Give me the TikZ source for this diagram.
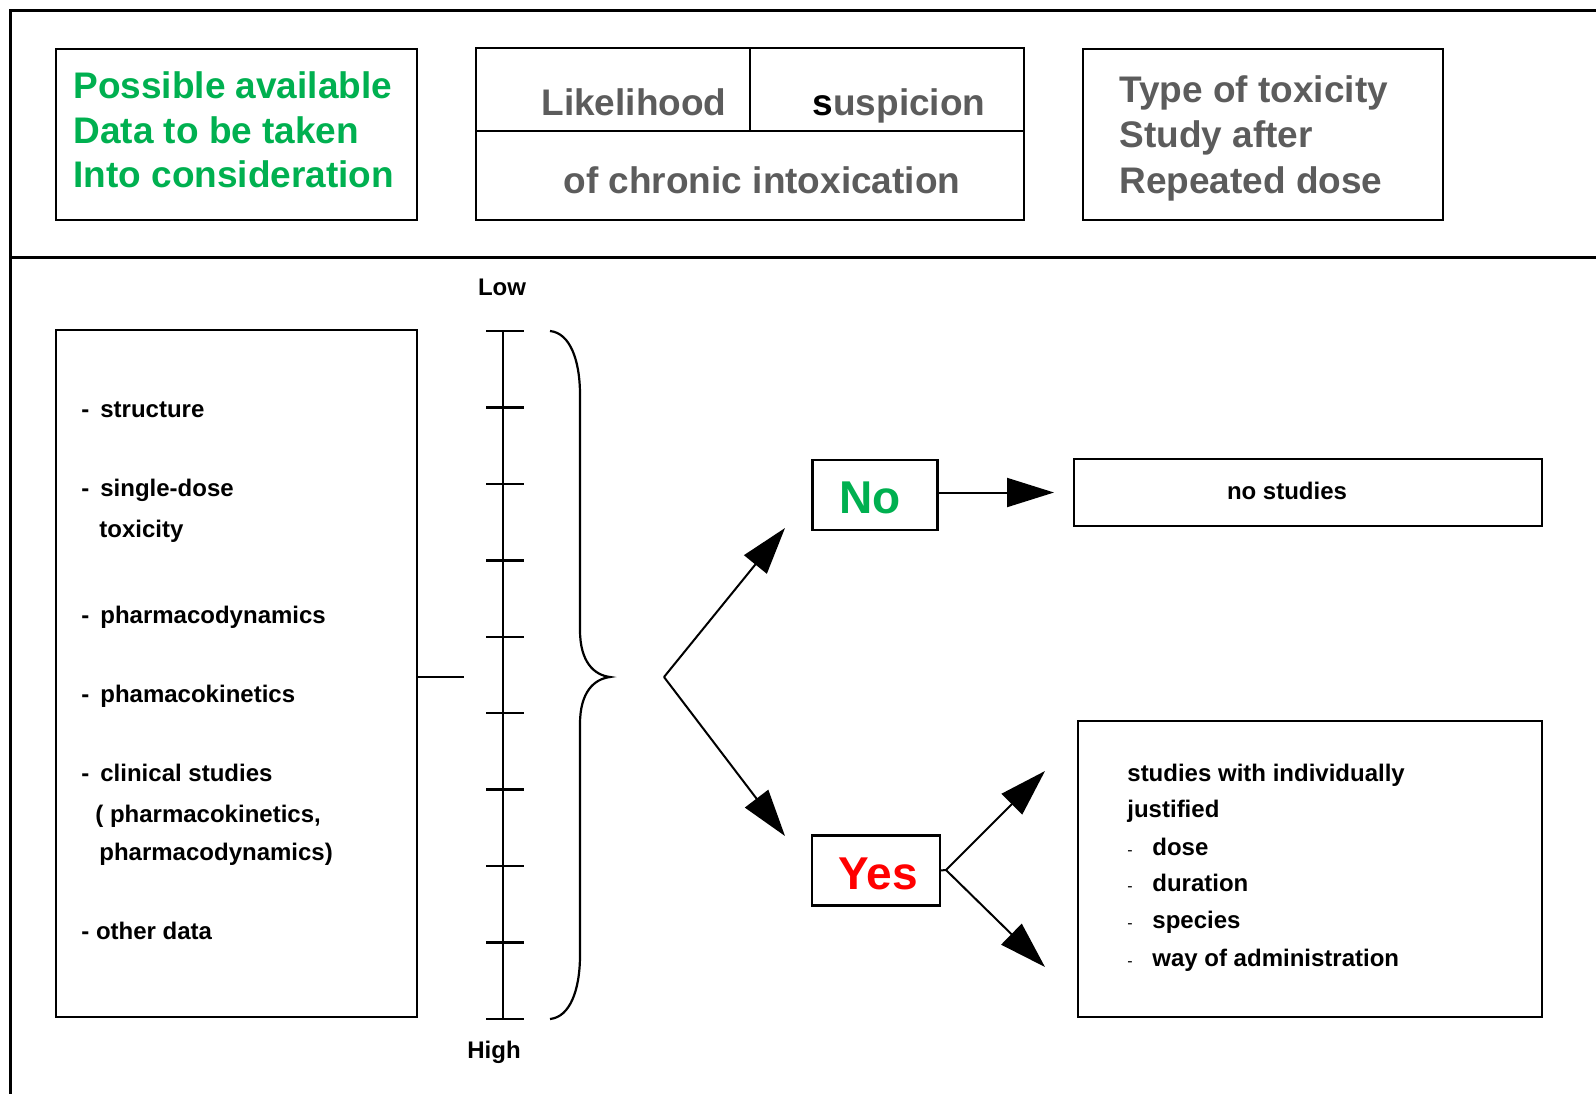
\documentclass[tikz,border=0pt]{standalone}
\usepackage{fontspec}
\setmainfont{Liberation Sans}
\usetikzlibrary{arrows.meta}
\definecolor{hgreen}{RGB}{0,176,80}
\definecolor{hgray}{RGB}{92,92,92}
\definecolor{hred}{RGB}{255,0,0}
\begin{document}
\begin{tikzpicture}[x=0.5pt,y=-0.5pt,
  box/.style={draw, line width=1.3pt, inner sep=0pt, outer sep=0pt},
  frame/.style={line width=1.5pt},
  bigl/.style={font=\fontsize{18.5}{22}\selectfont\bfseries, inner sep=0pt, anchor=base west},
  bigc/.style={font=\fontsize{18.5}{22}\selectfont\bfseries, inner sep=0pt, anchor=base},
  smalll/.style={font=\fontsize{12}{14}\selectfont\bfseries, inner sep=0pt, anchor=base west},
  smallc/.style={font=\fontsize{12}{14}\selectfont\bfseries, inner sep=0pt, anchor=base},
  answer/.style={font=\fontsize{23}{26}\selectfont\bfseries, inner sep=0pt, anchor=base},
  conn/.style={line width=1pt},
  arr/.style={line width=1pt, -{Triangle[length=23.5pt,width=14.5pt]}},
]
\useasboundingbox (0,0) rectangle (1596,1094);
% frame
\coordinate (fTR) at (1596,10.5);
\coordinate (fTL) at (10,10.5);
\coordinate (fBL) at (10,1094);
\coordinate (dL) at (10,257);
\coordinate (dR) at (1596,257);
\draw[frame] (fTR) -- (fTL) -- (fBL);
\draw[frame] (dL) -- (dR);

% header boxes
\node[box, minimum width=180.5pt, minimum height=85.5pt] (data) at (236.5,134.5) {};
\node[bigl, text=hgreen] (d1) at (73,98) {Possible available};
\node[bigl, text=hgreen] (d2) at (73,143) {Data to be taken};
\node[bigl, text=hgreen] (d3) at (73,187) {Into consideration};

\node[box, minimum width=274pt, minimum height=86pt] (lik) at (750,134) {};
\coordinate (likmid) at (750,131);
\draw[line width=1.3pt] (lik.west |- likmid) -- (lik.east |- likmid);
\draw[line width=1.3pt] (lik.north) -- (likmid);
\node[bigc, text=hgray] (t1) at (634,115) {Likelihood};
\node[bigc, text=hgray] (t2) at (899,115) {\textcolor{black}{s}uspicion};
\node[bigc, text=hgray] (t3) at (762,193) {of chronic intoxication};

\node[box, minimum width=180pt, minimum height=85.5pt] (type) at (1263,134.5) {};
\node[bigl, text=hgray] (y1) at (1119,102) {Type of toxicity};
\node[bigl, text=hgray] (y2) at (1119,147) {Study after};
\node[bigl, text=hgray] (y3) at (1119,193) {Repeated dose};

% list box
\node[box, minimum width=180.5pt, minimum height=343.5pt] (list) at (236.5,673.5) {};
\node[smalll] (l1) at (81,417) {\makebox[9.5pt][l]{-}structure};
\node[smalll] (l2) at (81,496) {\makebox[9.5pt][l]{-}single-dose};
\node[smalll] (l3) at (99,537) {toxicity};
\node[smalll] (l4) at (81,623) {\makebox[9.5pt][l]{-}pharmacodynamics};
\node[smalll] (l5) at (81,702) {\makebox[9.5pt][l]{-}phamacokinetics};
\node[smalll] (l6) at (81,781) {\makebox[9.5pt][l]{-}clinical studies};
\node[smalll] (l7) at (95,822) {( pharmacokinetics,};
\node[smalll] (l8) at (99,860) {pharmacodynamics)};
\node[smalll] (l9) at (81,939) {- other data};

% scale
\coordinate (scaleIn) at (464,677);
\draw[conn] (list.east |- scaleIn) -- (scaleIn);
\coordinate (sTop) at (503,331);
\coordinate (sBot) at (503,1020);
\draw[line width=1.2pt] (sTop) -- (sBot);
\foreach \i in {0,...,9}{
  \pgfmathsetmacro{\yy}{331+76.44*\i}
  \draw[line width=1.2pt] (486,\yy) -- (524,\yy);
}
\node[smallc] (low) at (502,295) {Low};
\node[smallc] (high) at (494,1058) {High};

% brace
\draw[line width=1.1pt] (550,331) .. controls (570,333) and (580,360) .. (580,395)
  -- (580,630) .. controls (580,662) and (594,675) .. (610,677)
  .. controls (594,679) and (580,692) .. (580,724)
  -- (580,955) .. controls (580,990) and (570,1017) .. (550,1019);

% decision
\coordinate (fork) at (664,677);
\coordinate (upTip) at (785,528);
\coordinate (dnTip) at (785,836);
\draw[arr] (fork) -- (upTip);
\draw[arr] (fork) -- (dnTip);

\node[box, minimum width=62.5pt, minimum height=35pt] (no) at (875,495) {};
\node[answer, text=hgreen] (notxt) at (870,513) {No};
\node[box, minimum width=234pt, minimum height=33.5pt] (nostud) at (1308,492.5) {};
\node[smallc] (nst) at (1287,499) {no studies};
\draw[arr, shorten >=10pt] (no.east |- nostud.west) -- (nostud.west);

\node[box, minimum width=64pt, minimum height=35pt] (yes) at (876,870.5) {};
\node[answer, text=hred] (yestxt) at (878,889) {Yes};
\coordinate (yfork) at (946,870);
\coordinate (yUp) at (1045,771);
\coordinate (yDn) at (1045,967);
\draw[conn] (yes.east) -- (yfork);
\draw[arr] (yfork) -- (yUp);
\draw[arr] (yfork) -- (yDn);

\node[box, minimum width=232pt, minimum height=148pt] (stud) at (1310,869) {};
\node[smalll] (s1) at (1127,781) {studies with individually};
\node[smalll] (s2) at (1127,817) {justified};
\node[smalll] (s3) at (1127,855) {\makebox[12.5pt][l]{\fontsize{8}{8}\selectfont\mdseries -}dose};
\node[smalll] (s4) at (1127,891) {\makebox[12.5pt][l]{\fontsize{8}{8}\selectfont\mdseries -}duration};
\node[smalll] (s5) at (1127,928) {\makebox[12.5pt][l]{\fontsize{8}{8}\selectfont\mdseries -}species};
\node[smalll] (s6) at (1127,966) {\makebox[12.5pt][l]{\fontsize{8}{8}\selectfont\mdseries -}way of administration};
\end{tikzpicture}
\end{document}
